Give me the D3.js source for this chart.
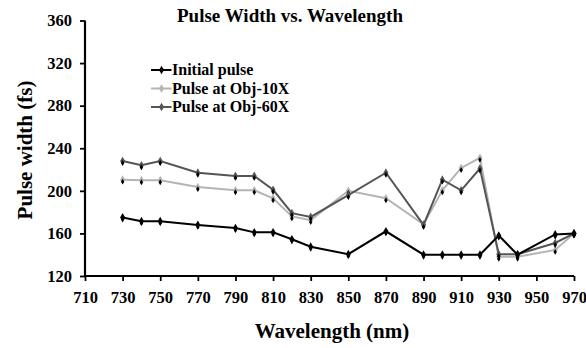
<!DOCTYPE html>
<html><head><meta charset="utf-8">
<script src="https://cdn.jsdelivr.net/npm/d3@7"></script>
<style>body{margin:0;background:#fff}svg{display:block}</style>
</head><body>
<script>
const wavelengths = [730,740,750,770,790,800,810,820,830,850,870,890,900,910,920,930,940,960,970];
const initialPulse = [175,171.5,171.5,168,165,161,161,154.5,147.5,140.5,162,140,140,140,140,158,140,159,160];
const obj10X = [210.5,210,210,203.5,200.5,200.5,193,176,172.5,200,193,168.5,200.5,221.5,231,138,138,144.5,160];
const obj60X = [228,224,228,217,214,214,201,179,175.5,196,217,168,210.5,200.5,221,140.5,140.5,151,160];
const seriesNames = ["Initial pulse","Pulse at Obj-10X","Pulse at Obj-60X"];
const seriesColors = ["#000000","#b4b4b4","#555555"];
const xTicks = [710,730,750,770,790,810,830,850,870,890,910,930,950,970];
const yTicks = [120,160,200,240,280,320,360];

const W=586,H=348;
const svg=d3.select("body").append("svg").attr("width",W).attr("height",H);
const font="'Liberation Serif','Times New Roman',serif";
const x=d3.scaleLinear().domain([710,970]).range([85,574]);
const y=d3.scaleLinear().domain([120,360]).range([276,20.5]);

const xa=svg.append("g").attr("transform","translate(0,276)")
  .call(d3.axisBottom(x).tickValues(xTicks).tickSize(5).tickPadding(10).tickFormat(d3.format("d")));
const ya=svg.append("g").attr("transform","translate(85,0)")
  .call(d3.axisLeft(y).tickValues(yTicks).tickSize(5).tickPadding(8).tickFormat(d3.format("d")));
[xa,ya].forEach(a=>{
  a.select(".domain").attr("stroke","#000").attr("stroke-width",2.2);
  a.selectAll(".tick line").attr("stroke","#000").attr("stroke-width",1.8);
  a.selectAll("text").attr("font-family",font).attr("font-weight","bold").attr("font-size",16.5).attr("fill","#000");
});
xa.select(".domain").attr("d",`M${x(710)},0H${x(970)}`);
ya.select(".domain").attr("d",`M0,${y(120)}V${y(360)}`);

const data=[initialPulse,obj10X,obj60X];
const line=d3.line().x((d,i)=>x(wavelengths[i])).y(d=>y(d));
const diamond=d3.symbol().type(d3.symbolDiamond).size(22);
[1,2,0].forEach(s=>{
  svg.append("path").datum(data[s]).attr("d",line).attr("fill","none")
    .attr("stroke",seriesColors[s]).attr("stroke-width",2);
  svg.append("g").selectAll("path").data(data[s]).join("path")
    .attr("transform",(d,i)=>`translate(${x(wavelengths[i])},${y(d)})`)
    .attr("d",diamond).attr("fill",seriesColors[s]);
  svg.append("g").selectAll("path").data(data[s]).join("path")
    .attr("transform",(d,i)=>`translate(${x(wavelengths[i])},${y(d)+2})`)
    .attr("d",d3.symbol().type(d3.symbolDiamond).size(10)).attr("fill","#000");
});

svg.append("text").attr("x",290).attr("y",22).attr("text-anchor","middle")
  .attr("font-family",font).attr("font-weight","bold").attr("font-size",19).text("Pulse Width vs. Wavelength");
svg.append("text").attr("x",332).attr("y",338).attr("text-anchor","middle")
  .attr("font-family",font).attr("font-weight","bold").attr("font-size",21).text("Wavelength (nm)");
svg.append("text").attr("transform","translate(32,150) rotate(-90)").attr("text-anchor","middle")
  .attr("font-family",font).attr("font-weight","bold").attr("font-size",21).text("Pulse width (fs)");

const lg=svg.append("g");
seriesNames.forEach((n,i)=>{
  const yy=70+i*18.5;
  lg.append("line").attr("x1",151).attr("x2",171.5).attr("y1",yy).attr("y2",yy)
    .attr("stroke",seriesColors[i]).attr("stroke-width",2);
  lg.append("path").attr("transform",`translate(161.5,${yy})`).attr("d",diamond).attr("fill",seriesColors[i]);
  lg.append("text").attr("x",172).attr("y",yy+5).attr("font-family",font).attr("font-weight","bold")
    .attr("font-size",16).text(n);
});
</script>
</body></html>
